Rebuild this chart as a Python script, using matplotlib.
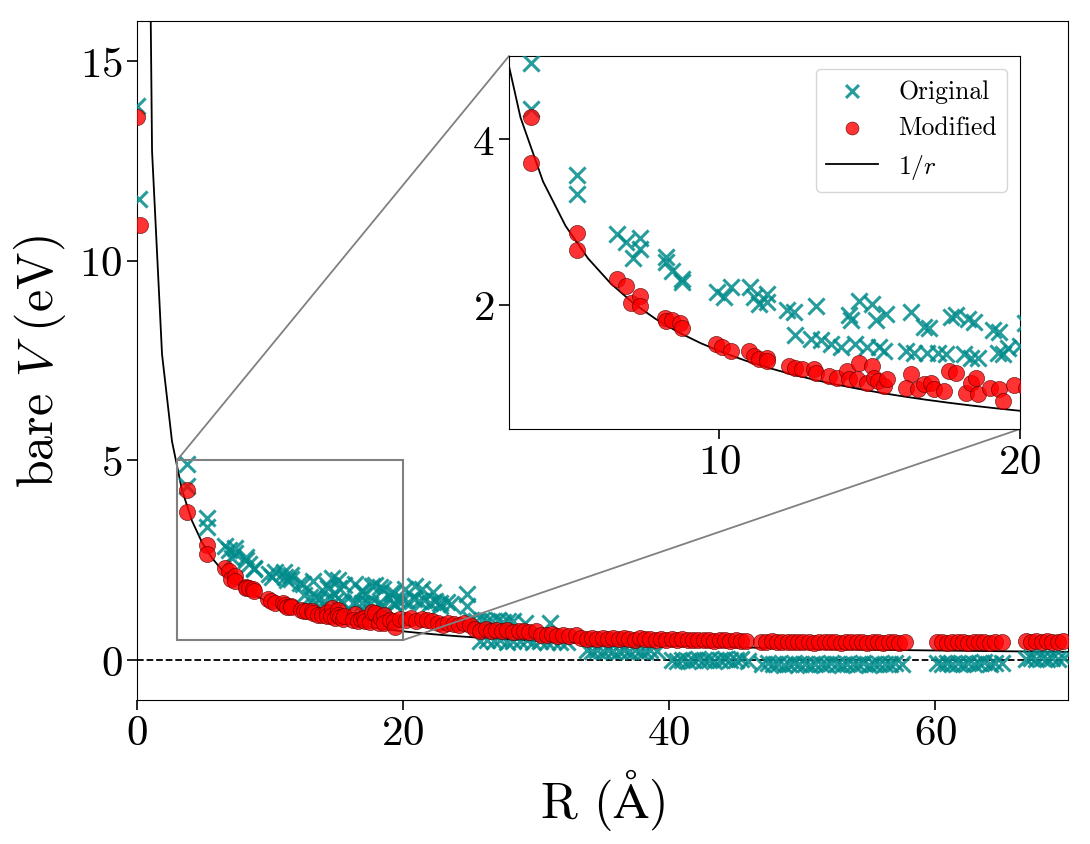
import matplotlib
matplotlib.use("Agg")
import matplotlib.pyplot as plt
import numpy as np

plt.rcParams['font.family'] = 'serif'
plt.rcParams['font.serif'] = ['cmr10']
plt.rcParams['mathtext.fontset'] = 'cm'
plt.rcParams['axes.formatter.use_mathtext'] = True

# Original (teal crosses): R in Angstrom, V in eV
r_orig = [0.0, 0.17,
          3.73, 3.73, 5.26, 5.26, 6.59, 6.9, 7.37, 7.37, 7.12, 8.23, 8.23, 8.42, 8.76, 8.76,
          9.92, 10.14, 10.37, 11.03, 11.14, 11.31, 11.59, 11.59, 12.26, 12.48, 13.2,
          12.53, 13.03, 13.37, 13.7, 14.03, 14.31, 14.37, 14.64, 14.5, 14.92, 15.09, 15.2,
          15.3, 15.48, 15.53, 16.37, 16.2, 16.48, 16.81, 16.98, 16.9, 17.26, 17.53, 17.7,
          17.87, 18.26, 18.48, 18.14, 18.37, 18.59, 19.09, 19.31, 19.26, 19.42,
          19.6, 20.0, 20.4, 20.8, 21.2, 21.6, 22.0, 22.4, 22.8, 23.3,
          20.15, 20.9, 21.4, 22.28, 22.78, 24.79, 24.79, 23.6,
          25.1, 25.5, 25.9, 26.3, 26.7, 27.1, 27.5, 27.9, 28.3, 29.17, 31.05,
          25.8, 26.3, 26.8, 27.3, 27.8, 28.3, 28.8, 29.3, 29.8, 30.3, 30.8, 31.3, 31.8, 32.3,
          33.8, 34.2, 34.6, 35.0, 35.4, 35.8, 36.2, 36.6, 37.0, 37.4, 37.8, 38.2, 38.6, 39.1,
          40.2, 40.6, 41.0, 41.4, 41.8, 42.2, 42.6, 43.0, 43.4, 43.8, 44.2, 44.6, 45.0, 45.4, 45.9,
          47.0, 47.4, 47.8, 48.2, 48.6, 49.0, 49.4, 49.8, 50.2, 50.6, 51.0, 51.4, 51.8, 52.2,
          52.6, 53.0, 53.4, 53.8, 54.2, 54.6, 55.0, 55.4, 55.8, 56.2, 56.6, 57.0, 57.5,
          60.1, 60.5, 60.9, 61.3, 61.7, 62.1, 62.5, 62.9, 63.3, 63.7, 64.1, 64.5, 65.0,
          66.8, 67.2, 67.6, 68.0, 68.4, 68.8, 69.2, 69.7]
v_orig = [13.87, 11.55,
          4.92, 4.36, 3.56, 3.33, 2.85, 2.76, 2.80, 2.67, 2.56, 2.57, 2.51, 2.41, 2.31, 2.27,
          2.15, 2.09, 2.21, 2.21, 2.09, 2.01, 2.13, 2.03, 1.93, 1.91, 1.99,
          1.63, 1.59, 1.57, 1.53, 1.49, 1.87, 1.81, 2.05, 1.53, 1.49, 2.01, 1.81,
          1.49, 1.44, 1.89, 1.91, 1.44, 1.42, 1.73, 1.72, 1.42, 1.42, 1.40, 1.85,
          1.87, 1.83, 1.79, 1.40, 1.36, 1.36, 1.69, 1.67, 1.42, 1.40,
          1.48, 1.50, 1.46, 1.52, 1.47, 1.50, 1.44, 1.48, 1.42, 1.45,
          1.78, 1.86, 1.78, 1.70, 1.36, 1.65, 1.36, 1.40,
          1.00, 0.98, 1.01, 0.97, 0.99, 1.00, 0.96, 0.99, 0.97, 0.94, 0.94,
          0.48, 0.50, 0.47, 0.49, 0.46, 0.48, 0.47, 0.49, 0.46, 0.48, 0.45, 0.47, 0.46, 0.45,
          0.24, 0.22, 0.25, 0.23, 0.24, 0.22, 0.23, 0.25, 0.22, 0.24, 0.23, 0.22, 0.24, 0.23,
          0.00, -0.02, 0.01, -0.03, 0.00, 0.02, -0.01, 0.01, -0.02, 0.00, 0.03, -0.01, 0.00, 0.02, -0.02,
          -0.10, -0.08, -0.11, -0.09, -0.12, -0.10, -0.08, -0.11, -0.10, -0.12, -0.09, -0.10, -0.11, -0.08,
          -0.10, -0.12, -0.09, -0.11, -0.10, -0.08, -0.12, -0.10, -0.09, -0.11, -0.10, -0.08, -0.10,
          -0.08, -0.10, -0.07, -0.09, -0.08, -0.10, -0.07, -0.09, -0.08, -0.06, -0.09, -0.08, -0.07,
          0.03, 0.05, 0.02, 0.04, 0.03, 0.05, 0.02, 0.04]

# Modified (red circles)
r_mod = [0.0, 0.2,
         3.73, 3.73, 5.26, 5.26, 6.59, 6.9, 7.06, 7.37, 7.37, 8.2, 8.23, 8.42, 8.7, 8.76,
         9.87, 10.1, 10.37, 10.98, 11.14, 11.31, 11.59, 11.59, 12.31, 12.53, 12.76, 13.14,
         13.2, 13.64, 13.92, 14.26, 14.31, 14.64, 14.59, 14.92, 15.09, 15.14, 15.26, 15.48,
         15.59, 16.37, 16.2, 16.59, 16.81, 17.03, 17.15, 17.48, 17.64, 17.87, 18.2, 18.37,
         18.53, 18.59, 19.0, 19.31, 19.42,
         19.8, 20.2, 20.6, 21.0, 21.4, 21.8, 22.2,
         22.6, 23.0, 23.4, 23.8, 24.2, 24.6, 25.0,
         25.4, 25.8, 26.2, 26.6, 27.0, 27.4, 27.8, 28.3, 28.7, 29.1, 29.5, 30.0,
         30.4, 30.8, 31.2, 31.6, 32.0, 32.5, 33.0,
         33.4, 33.8, 34.2, 34.6, 35.0, 35.4, 35.8, 36.2, 36.6, 37.0, 37.4, 37.8, 38.2,
         38.6, 39.0, 39.4, 39.8, 40.2, 40.6, 41.0, 41.4, 41.8, 42.2, 42.6, 43.0, 43.4,
         43.8, 44.2, 44.6, 45.0, 45.4, 45.8,
         46.9, 47.3, 47.7, 48.1, 48.5, 48.9, 49.3, 49.7, 50.1, 50.5, 50.9, 51.3, 51.7,
         52.1, 52.5, 52.9, 53.3, 53.7, 54.1, 54.5, 54.9, 55.3, 55.7, 56.1, 56.5, 56.9, 57.3, 57.7,
         60.1, 60.5, 60.9, 61.3, 61.7, 62.1, 62.5, 62.9, 63.3, 63.7, 64.1, 64.5, 65.0,
         66.8, 67.2, 67.6, 68.0, 68.4, 68.8, 69.2, 69.6]
v_mod = [13.6, 10.89,
         4.26, 3.71, 2.87, 2.66, 2.31, 2.22, 2.02, 2.10, 1.98, 1.84, 1.80, 1.81, 1.78, 1.72,
         1.53, 1.49, 1.44, 1.44, 1.38, 1.34, 1.36, 1.32, 1.26, 1.24, 1.22, 1.22,
         1.18, 1.14, 1.12, 1.20, 1.10, 1.30, 1.10, 1.06, 1.26, 1.12, 1.08, 1.02,
         1.10, 1.16, 1.00, 0.98, 1.04, 1.06, 0.98, 0.96, 1.20, 1.18, 0.94, 1.06,
         1.12, 0.92, 1.00, 0.98, 0.84,
         1.03, 1.00, 1.05, 0.98, 1.04, 1.01, 0.97,
         0.92, 0.88, 0.94, 0.90, 0.87, 0.93, 0.89,
         0.78, 0.74, 0.77, 0.72, 0.76, 0.73, 0.75, 0.71, 0.74, 0.72, 0.70, 0.73,
         0.64, 0.62, 0.65, 0.61, 0.63, 0.60, 0.62,
         0.55, 0.53, 0.56, 0.52, 0.54, 0.53, 0.55, 0.52, 0.54, 0.53, 0.51, 0.54, 0.52,
         0.53, 0.51, 0.52, 0.50, 0.53, 0.51, 0.52, 0.50, 0.51, 0.49, 0.51, 0.50, 0.48,
         0.50, 0.49, 0.47, 0.49, 0.48, 0.47,
         0.46, 0.44, 0.47, 0.45, 0.46, 0.44, 0.45, 0.46, 0.44, 0.45, 0.43, 0.45, 0.46,
         0.44, 0.45, 0.43, 0.45, 0.44, 0.46, 0.44, 0.43, 0.45, 0.44, 0.43, 0.45, 0.44, 0.43, 0.45,
         0.44, 0.46, 0.43, 0.45, 0.44, 0.46, 0.43, 0.45, 0.44, 0.45, 0.43, 0.44, 0.45,
         0.47, 0.45, 0.48, 0.46, 0.47, 0.45, 0.46, 0.47]

# Coulomb reference curve e^2/(4 pi eps0 r) = 14.4/r eV
k_coul = 14.4
r_curve = np.arange(0.38, 70.5, 0.75)

teal = '#008b8b'


def draw(ax, big):
    ms = 135
    if big:
        ax.axhline(0, color='k', ls='--', lw=1.3, zorder=1)
    ax.plot(r_curve, k_coul / r_curve, color='k', lw=1.3, label='$1/r$', zorder=2)
    ax.scatter(r_orig, v_orig, marker='x', s=ms, color=teal, linewidths=2.2,
               alpha=0.85, label='Original', zorder=3)
    ax.scatter(r_mod, v_mod, marker='o', s=ms, color='red', edgecolors='#550000',
               linewidths=0.5, alpha=0.8, label='Modified', zorder=4)


fig = plt.figure(figsize=(10.9, 8.45), dpi=100)
ax = fig.add_axes([0.1257, 0.1704, 0.8543, 0.8036])
draw(ax, True)
ax.set_xlim(0, 70)
ax.set_ylim(-1, 16)
ax.set_xticks([0, 20, 40, 60])
ax.set_yticks([0, 5, 10, 15])
ax.tick_params(labelsize=31, length=7, width=1.2)
ax.set_xlabel(r'R ($\mathrm{\AA}$)', fontsize=36, labelpad=10)
ax.set_ylabel(r'bare $V$ (eV)', fontsize=36, labelpad=8)

axins = fig.add_axes([0.467, 0.4911, 0.4688, 0.4414])
draw(axins, False)
axins.set_xlim(3, 20)
axins.set_ylim(0.5, 5)
axins.set_xticks([10, 20])
axins.set_yticks([2, 4])
axins.tick_params(labelsize=31, length=7, width=1.2)

ind = ax.indicate_inset_zoom(axins, edgecolor='0.5', alpha=1, linewidth=1.5)
for c, vis in zip(ind.connectors, [False, True, True, False]):
    c.set_visible(vis)
    c.set_linewidth(1.3)

h, l = axins.get_legend_handles_labels()
order = [l.index('Original'), l.index('Modified'), l.index('$1/r$')]
axins.legend([h[i] for i in order], [l[i] for i in order], loc='upper right',
             fontsize=18.5, markerscale=0.8)

fig.savefig('out.png', dpi=100)
